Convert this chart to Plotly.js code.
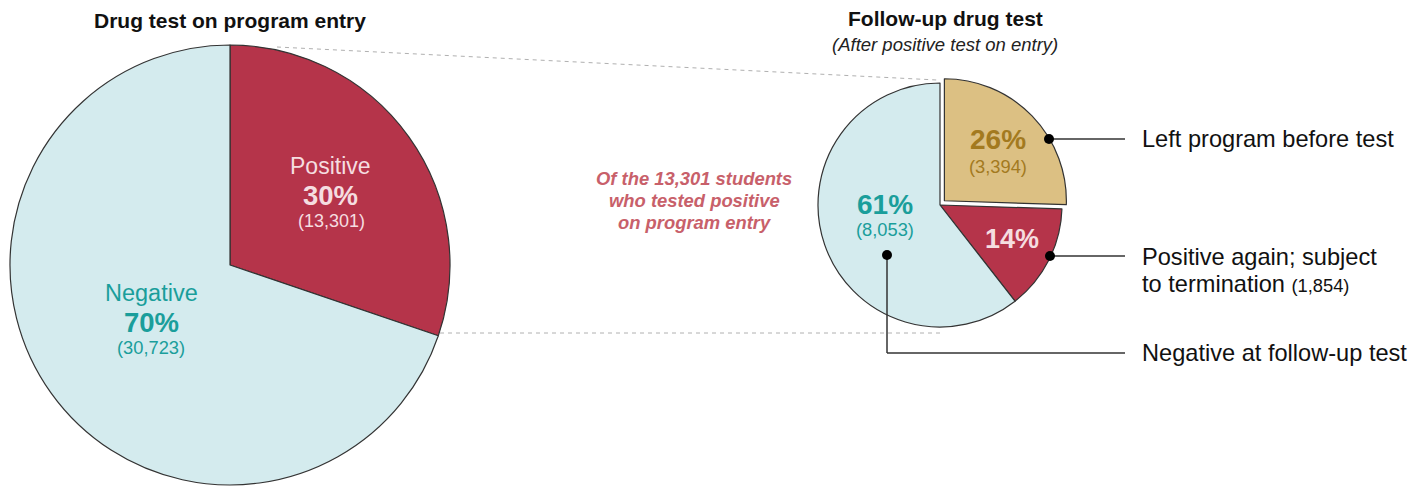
<!DOCTYPE html>
<html>
<head>
<meta charset="utf-8">
<script src="https://cdn.plot.ly/plotly-3.0.1.min.js"></script>
<style>html,body{margin:0;padding:0;background:#fff;overflow:hidden}</style>
</head>
<body>
<div id="chart" style="width:1423px;height:486px"></div>
<script>
// ---- data ----
const entryLabels = ["Positive", "Negative"];
const entryValues = [13301, 30723];
const entryPct = ["30%", "70%"];
const followLabels = ["Left program before test", "Positive again; subject to termination", "Negative at follow-up test"];
const followValues = [3394, 1854, 8053];
const followPct = ["26%", "14%", "61%"];
const followPull = [0.05, 0, 0];

const W = 1423, H = 486;
const FONT = '"Liberation Sans", Arial, sans-serif';
const fmt = v => v.toLocaleString('en-US');
const px = x => x / W;
const py = y => (H - y) / H;

const RED = '#b5344a', BLUE = '#d4ebee', GOLD = '#dcc083';
const TEAL = '#1a9e9b', DGOLD = '#a37a1f', PINK = '#f5dde0', EDGE = '#333333';

// left pie: center (230,265) r 220
const L = {cx: 230, cy: 265, r: 220};
// right pie: center (940,205) r 122 with pull
const R = {cx: 940, cy: 205, r: 122};
const maxPull = Math.max(...followPull);
const rBox = R.r * (1 + maxPull);

const traces = [
  {
    type: 'pie', labels: entryLabels, values: entryValues, sort: false,
    direction: 'clockwise', rotation: 0, textinfo: 'none', hoverinfo: 'none',
    marker: {colors: [RED, BLUE], line: {color: EDGE, width: 1.2}},
    domain: {x: [px(L.cx - L.r), px(L.cx + L.r)], y: [py(L.cy + L.r), py(L.cy - L.r)]},
    showlegend: false
  },
  {
    type: 'pie', labels: followLabels, values: followValues, sort: false,
    direction: 'clockwise', rotation: 0, textinfo: 'none', hoverinfo: 'none',
    pull: followPull,
    marker: {colors: [GOLD, RED, BLUE], line: {color: EDGE, width: 1.2}},
    domain: {x: [px(R.cx - rBox), px(R.cx + rBox)], y: [py(R.cy + rBox), py(R.cy - rBox)]},
    showlegend: false
  }
];

function ann(text, x, y, size, color, opts) {
  return Object.assign({
    text: text, xref: 'paper', yref: 'paper', x: px(x), y: py(y),
    xanchor: 'center', yanchor: 'middle', showarrow: false,
    font: {family: FONT, size: size, color: color}
  }, opts || {});
}

const annotations = [
  ann('<b>Drug test on program entry</b>', 230, 20, 21, '#111'),
  ann('<b>Follow-up drug test</b>', 945, 19, 21, '#111'),
  ann('<i>(After positive test on entry)</i>', 945, 45, 18.5, '#222'),
  ann('<b><i>Of the 13,301 students</i></b>', 694, 178, 18.4, '#c8606a'),
  ann('<b><i>who tested positive</i></b>', 694, 200, 18.4, '#c8606a'),
  ann('<b><i>on program entry</i></b>', 694, 222, 18.4, '#c8606a'),
  // left pie labels
  ann(entryLabels[0], 330, 166, 23, PINK),
  ann('<b>' + entryPct[0] + '</b>', 330, 195, 27.5, PINK),
  ann('(' + fmt(entryValues[0]) + ')', 331, 221, 18, PINK),
  ann(entryLabels[1], 151, 293, 23.5, TEAL),
  ann('<b>' + entryPct[1] + '</b>', 151, 322, 27.5, TEAL),
  ann('(' + fmt(entryValues[1]) + ')', 151, 347, 18.3, TEAL),
  // right pie labels
  ann('<b>' + followPct[0] + '</b>', 998, 139, 28, DGOLD),
  ann('(' + fmt(followValues[0]) + ')', 998, 166, 18.3, DGOLD),
  ann('<b>' + followPct[1] + '</b>', 1012, 239, 27, PINK),
  ann('<b>' + followPct[2] + '</b>', 885, 204, 28, TEAL),
  ann('(' + fmt(followValues[2]) + ')', 885, 230, 18.3, TEAL),
  // callout texts
  ann(followLabels[0], 1140, 139, 23.6, '#111', {xanchor: 'left'}),
  ann('Positive again; subject', 1140, 257, 23.6, '#111', {xanchor: 'left'}),
  ann('to termination <span style="font-size:18.3px">(' + fmt(followValues[1]) + ')</span>', 1140, 284, 23.6, '#111', {xanchor: 'left'}),
  ann(followLabels[2], 1140, 353, 23.6, '#111', {xanchor: 'left'})
];

function line(x0, y0, x1, y1, color, width, dash) {
  return {type: 'line', xref: 'paper', yref: 'paper', x0: px(x0), y0: py(y0), x1: px(x1), y1: py(y1),
          line: {color: color, width: width, dash: dash || 'solid'}};
}
function dot(x, y) {
  const r = 5;
  return {type: 'circle', xref: 'paper', yref: 'paper', x0: px(x - r), x1: px(x + r), y0: py(y + r), y1: py(y - r),
          fillcolor: '#000', line: {color: '#000', width: 0}};
}

const shapes = [
  line(277, 47, 937, 80, '#b0b0b0', 1, '4px,4px'),
  line(440, 333, 943, 333, '#b0b0b0', 1, '4px,4px'),
  line(1049, 139, 1125, 139, EDGE, 1.5),
  line(1050, 256, 1125, 256, EDGE, 1.5),
  line(887, 255, 887, 353, EDGE, 1.5),
  line(887, 353, 1125, 353, EDGE, 1.5),
  dot(1049, 139), dot(1050, 256), dot(887, 255)
];

const layout = {
  width: W, height: H,
  margin: {l: 0, r: 0, t: 0, b: 0},
  paper_bgcolor: '#fff', plot_bgcolor: '#fff',
  showlegend: false,
  font: {family: FONT},
  annotations: annotations,
  shapes: shapes
};

Plotly.newPlot('chart', traces, layout, {displayModeBar: false, staticPlot: true});
</script>
</body>
</html>
